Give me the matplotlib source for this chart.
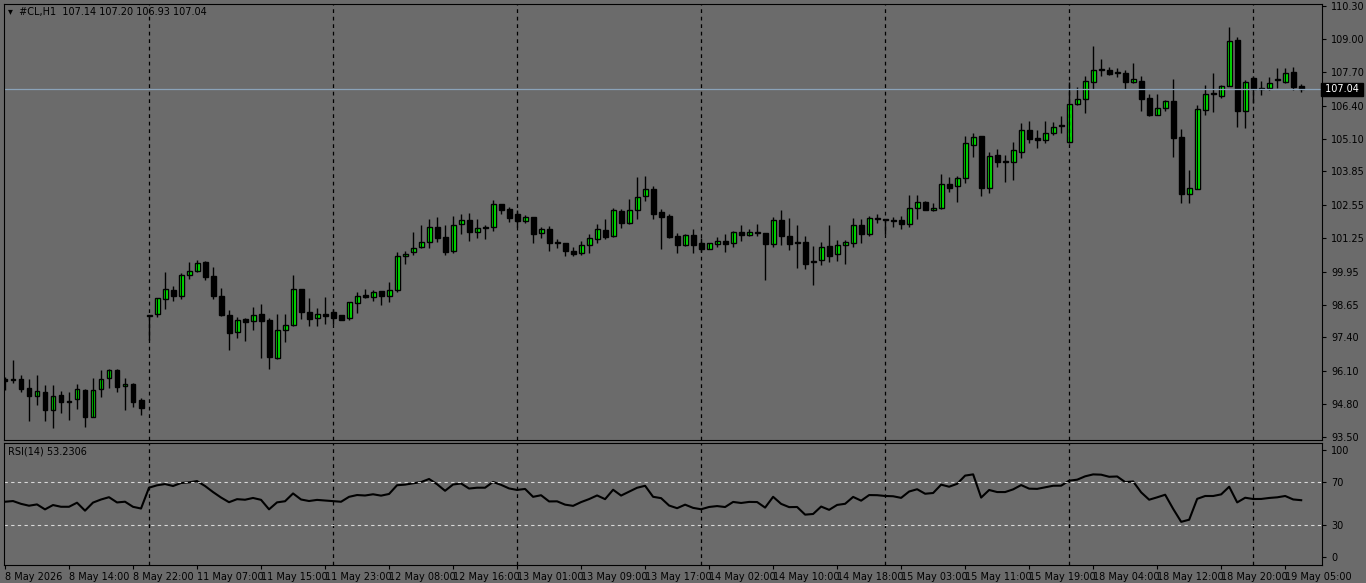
import numpy as np
import matplotlib
matplotlib.use("Agg")
import matplotlib.pyplot as plt

# OHLC per H1 candle
opens = [95.76,95.72,95.76,95.41,95.12,95.25,94.58,95.15,94.93,94.98,95.34,94.30,95.39,95.83,96.12,95.50,95.57,94.95,
         98.21,98.32,98.87,99.23,99.02,99.80,99.96,100.31,99.78,99.02,98.28,97.62,98.10,98.02,98.32,98.06,96.60,97.68,97.88,99.26,98.36,98.15,98.32,
         98.39,98.26,98.13,98.71,99.04,98.98,99.18,99.01,99.22,100.57,100.70,100.89,101.09,101.67,101.28,100.77,101.79,101.94,101.48,101.67,101.67,102.57,102.38,
         102.18,101.93,102.06,101.46,101.59,101.10,101.05,100.75,100.66,100.99,101.22,101.57,101.35,102.31,101.86,102.34,102.89,103.15,102.27,
         102.12,101.34,101.00,101.36,101.05,100.84,101.01,101.14,101.05,101.49,101.39,101.49,101.44,101.04,101.96,101.34,101.09,101.09,100.35,100.39,100.95,100.62,100.98,101.05,101.75,101.43,102.05,
         102.00,101.97,101.96,101.82,102.41,102.65,102.34,102.41,103.35,103.27,103.58,104.87,105.23,103.19,104.48,104.27,104.23,104.62,105.46,105.13,105.07,105.33,105.64,
         105.01,106.46,106.65,107.31,107.82,107.80,107.68,107.67,107.32,107.37,106.69,106.04,106.30,106.59,105.17,102.96,103.15,106.24,106.89,106.80,107.17,108.96,106.21,
         107.48,107.11,107.11,107.40,107.34,107.70,107.17]
highs = [95.86,96.51,95.92,95.79,95.92,95.54,95.54,95.30,95.25,95.57,95.38,95.83,96.14,96.18,96.18,95.82,95.63,95.02,
         98.28,98.91,99.93,99.39,99.91,100.32,100.40,100.37,100.14,99.30,98.45,98.19,98.13,98.58,98.69,98.13,98.30,98.30,99.82,99.26,98.91,98.52,98.95,
         98.48,98.26,98.75,99.15,99.27,99.23,99.18,99.54,100.70,100.75,101.50,101.76,101.98,102.06,101.76,102.11,102.19,102.24,101.98,101.76,102.73,102.57,102.45,
         102.34,102.15,102.06,101.70,101.72,101.20,101.05,100.89,101.15,101.41,101.79,101.98,102.41,102.37,102.77,103.64,103.67,103.28,102.37,
         102.19,101.44,101.41,101.61,101.27,101.08,101.29,101.41,101.54,101.75,101.61,101.80,101.47,102.09,102.35,102.03,101.75,101.34,100.95,101.09,101.75,101.18,101.18,102.05,102.00,102.12,102.19,
         102.00,102.06,102.12,102.93,102.93,102.71,102.61,103.75,103.62,103.65,105.23,105.33,105.23,104.62,104.71,104.49,105.01,105.72,105.81,105.46,105.81,105.78,106.01,
         107.34,107.15,107.54,108.73,108.22,107.92,107.86,107.80,108.08,107.54,106.86,106.86,106.63,107.43,105.50,103.90,106.43,107.21,107.69,107.21,109.48,109.09,107.40,
         107.56,107.37,107.51,107.86,107.86,107.90,107.24]
lows = [95.34,95.63,95.28,94.15,94.76,94.15,93.85,94.46,94.18,94.60,93.91,94.30,95.08,95.44,95.28,94.56,94.69,94.37,
        97.29,98.19,98.51,98.82,98.89,99.67,99.93,99.62,98.88,98.22,96.90,97.38,97.26,97.68,96.60,96.15,96.55,97.21,97.83,98.12,97.83,97.83,97.93,
        97.93,98.06,98.06,98.35,98.93,98.82,98.65,98.78,99.17,100.24,100.59,100.85,100.85,101.11,100.59,100.68,101.41,101.15,101.24,101.22,101.54,102.19,101.89,
        101.70,101.85,101.05,101.24,100.76,100.85,100.57,100.57,100.59,100.68,101.05,101.20,101.31,101.66,101.79,102.01,102.71,102.01,100.84,
        101.25,100.69,100.95,100.69,100.73,100.82,100.92,100.73,100.92,101.16,101.34,101.34,99.62,100.92,100.99,100.79,100.11,100.04,99.41,100.20,100.33,100.38,100.26,100.92,101.08,101.34,101.86,
        101.42,101.70,101.61,101.70,102.01,102.35,102.31,102.39,103.06,102.67,103.41,104.42,102.91,103.02,104.01,103.45,103.51,104.36,104.97,104.75,104.97,105.25,105.33,
        104.97,106.43,106.13,107.04,107.56,107.60,107.51,107.04,107.28,106.21,106.00,106.04,106.21,104.42,102.63,102.63,103.15,106.04,106.17,106.72,107.17,105.59,105.55,
        106.52,106.82,107.02,107.08,107.28,107.02,106.95]
closes = [95.68,95.79,95.39,95.12,95.29,94.58,95.13,94.89,94.89,95.37,94.30,95.34,95.79,96.14,95.47,95.57,94.89,94.65,
          98.28,98.91,99.26,99.01,99.80,99.96,100.30,99.75,99.01,98.27,97.57,98.08,98.00,98.28,98.04,96.64,97.68,97.86,99.26,98.36,98.12,98.31,98.22,
          98.13,98.06,98.75,99.02,98.97,99.14,99.01,99.22,100.54,100.65,100.88,101.09,101.67,101.27,100.72,101.75,101.94,101.50,101.63,101.63,102.57,102.34,102.05,
          101.93,102.06,101.42,101.60,101.05,101.06,100.76,100.65,100.97,101.24,101.59,101.31,102.33,101.86,102.33,102.86,103.15,102.21,102.08,
          101.31,101.00,101.36,101.00,100.84,101.05,101.13,101.04,101.48,101.39,101.48,101.47,101.04,101.95,101.35,101.04,101.05,100.26,100.31,100.90,100.57,100.99,101.09,101.75,101.43,102.02,102.01,
          101.95,101.93,101.82,102.41,102.65,102.36,102.43,103.35,103.22,103.58,104.94,105.20,103.22,104.46,104.23,104.23,104.67,105.45,105.10,105.08,105.33,105.59,105.60,
          106.46,106.65,107.35,107.80,107.78,107.64,107.70,107.34,107.43,106.67,106.04,106.30,106.59,105.14,102.96,103.19,106.26,106.85,106.85,107.17,108.92,106.21,107.31,
          107.06,107.07,107.28,107.41,107.67,107.15,107.04]

header_ohlc = ["107.14", "107.20", "106.93", "107.04"]
rsi_last = "53.2306"

time_labels = {0: "8 May 2026", 8: "8 May 14:00", 16: "8 May 22:00", 24: "11 May 07:00", 32: "11 May 15:00",
               40: "11 May 23:00", 48: "12 May 08:00", 56: "12 May 16:00", 64: "13 May 01:00", 72: "13 May 09:00",
               80: "13 May 17:00", 88: "14 May 02:00", 96: "14 May 10:00", 104: "14 May 18:00", 112: "15 May 03:00",
               120: "15 May 11:00", 128: "15 May 19:00", 136: "18 May 04:00", 144: "18 May 12:00", 152: "18 May 20:00",
               160: "19 May 05:00"}
day_starts = [18, 41, 64, 87, 110, 133, 156]
price_ticks = [110.30, 109.00, 107.70, 106.40, 105.10, 103.85, 102.55, 101.25, 99.95, 98.65, 97.40, 96.10, 94.80, 93.50]

o = np.array(opens); h = np.array(highs); l = np.array(lows); c = np.array(closes)
n = len(c)
idx = np.arange(n)

# RSI(14), Wilder smoothing
d = np.diff(c, prepend=c[0])
up = np.clip(d, 0, None); dn = np.clip(-d, 0, None)
au = np.zeros(n); ad = np.zeros(n)
au[0], ad[0] = 0.32, 0.30
for i in range(1, n):
    au[i] = (au[i-1] * 13 + up[i]) / 14
    ad[i] = (ad[i-1] * 13 + dn[i]) / 14
rsi = 100 - 100 / (1 + au / ad)

bg = "#6b6b6b"
W, H = 1366, 583
fig = plt.figure(figsize=(W/100, H/100), dpi=100, facecolor=bg)
ax = fig.add_axes([4/W, 1-440/H, 1318/W, 436/H], facecolor=bg)
ax2 = fig.add_axes([4/W, 1-565/H, 1318/W, 122/H], facecolor=bg)

for a in (ax, ax2):
    a.set_xlim(-0.125, 164.6)
    for s in a.spines.values():
        s.set_color("black")
    for x in day_starts:
        a.axvline(x, color="black", ls=(0, (3, 3)), lw=0.9)
    a.tick_params(axis="both", colors="black", labelsize=7, length=3, width=0.8, direction="out")
    a.yaxis.tick_right()

# candles
green = c >= o
ax.vlines(idx, l, h, color="black", lw=1)
body_bot = np.minimum(o, c)
body_h = np.maximum(np.abs(c - o), 0.03)
ax.bar(idx[green], body_h[green], bottom=body_bot[green], width=0.62, color="#00ff00", edgecolor="black", lw=1)
ax.bar(idx[~green], body_h[~green], bottom=body_bot[~green], width=0.62, color="black", edgecolor="black", lw=1)

ax.set_ylim(93.40, 110.36)
ax.set_yticks(price_ticks)
ax.set_yticklabels([f"{p:.2f}" for p in price_ticks])
ax.set_xticks([])
ax.axhline(c[-1], color="#8aa2b8", lw=0.9)
ax.text(1.0, c[-1], f" {c[-1]:.2f} ", transform=ax.get_yaxis_transform(), color="white", fontsize=7,
        va="center", ha="left", bbox=dict(boxstyle="square,pad=0.15", fc="black", ec="black"))
ax.text(0.003, 0.993, "\u25be  #CL,H1  " + " ".join(header_ohlc),
        transform=ax.transAxes, fontsize=7, va="top", color="black")

ax2.plot(idx, rsi, color="black", lw=1.5)
ax2.set_ylim(-7.5, 106.5)
ax2.set_yticks([0, 30, 70, 100])
for lv in (30, 70):
    ax2.axhline(lv, color="#d8d8d8", ls=(0, (3, 3)), lw=0.8)
ax2.text(0.003, 0.97, "RSI(14) " + rsi_last, transform=ax2.transAxes, fontsize=7, va="top", color="black")
ax2.set_xticks(list(time_labels.keys()))
ax2.set_xticklabels(list(time_labels.values()), ha="left")
ax2.tick_params(axis="x", pad=2)

fig.savefig("out.png", dpi=100, facecolor=bg)
